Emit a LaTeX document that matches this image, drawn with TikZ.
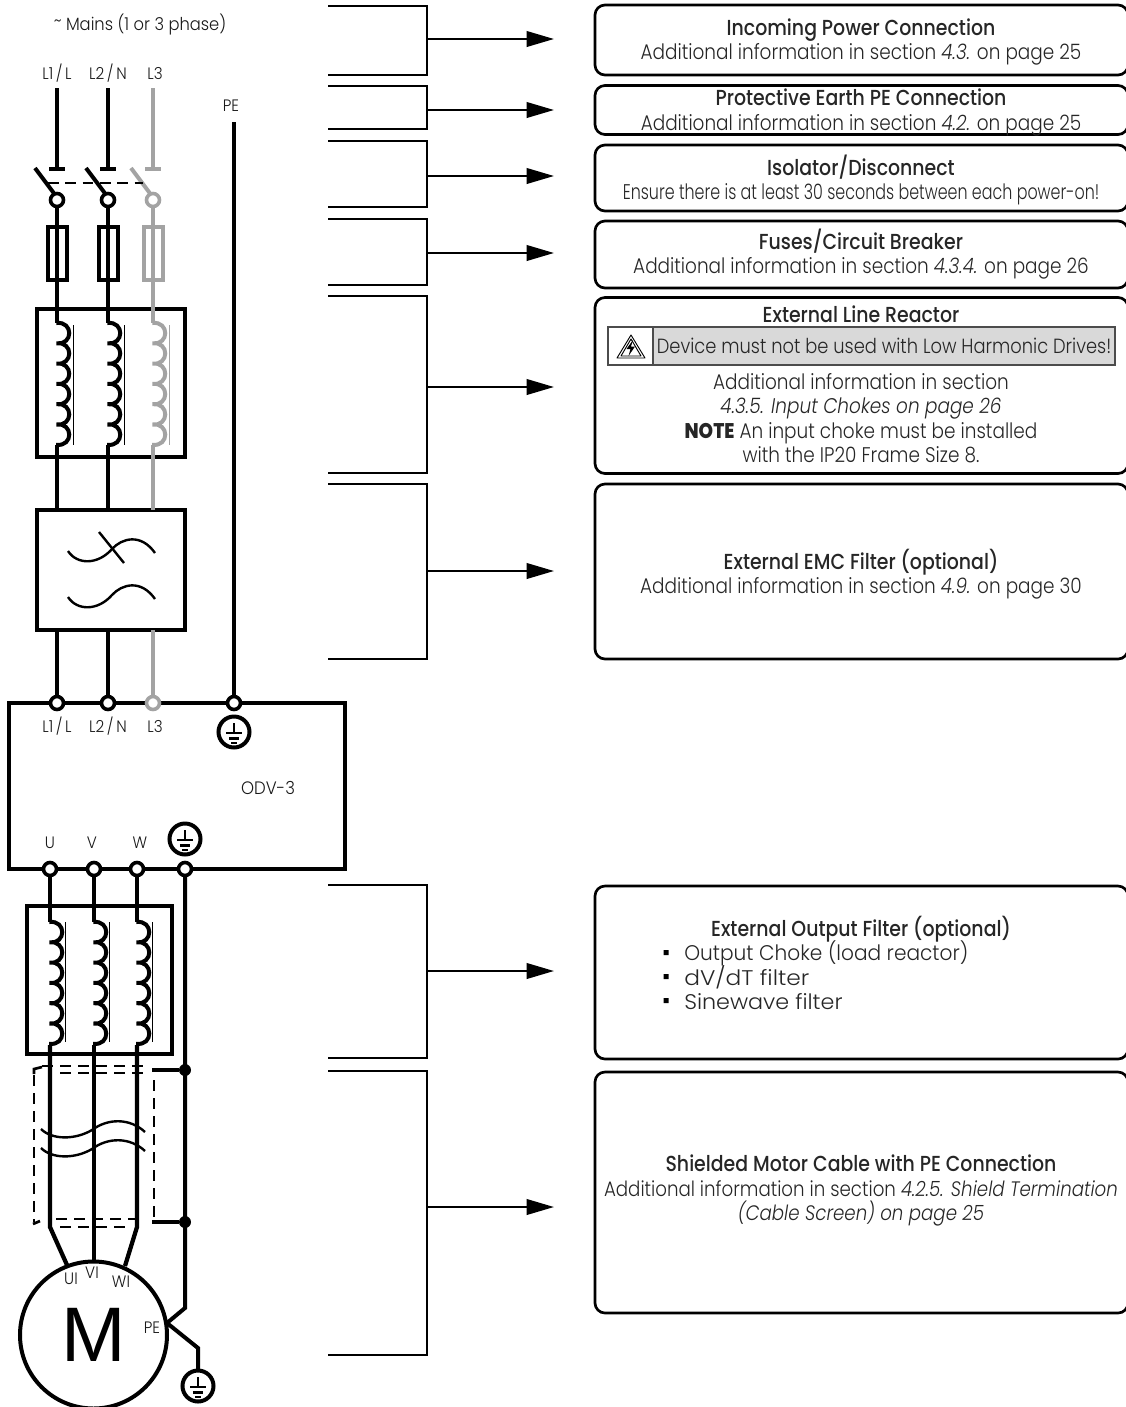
\documentclass[tikz,border=0pt]{standalone}
\usepackage{fontspec}
\usetikzlibrary{arrows.meta,calc}
\setmainfont{Poppins}[UprightFont=* Light,ItalicFont=* Light Italic,BoldFont=* Medium,FakeStretch=0.87]
\newfontfamily\noteface{Poppins}[UprightFont=* ExtraBold,FakeStretch=0.87]
\newfontfamily\labface{Poppins}[UprightFont=* Light,FakeStretch=0.92]
\newfontfamily\mface{Liberation Sans}
\definecolor{phasegrey}{HTML}{A3A3A3}
\definecolor{warngrey}{HTML}{D9D9D9}
\newcommand{\ttlfont}{\fontsize{16.3}{18.4}\selectfont\bfseries}
\newcommand{\bodyfont}{\fontsize{15.9}{18.4}\selectfont}
\tikzset{
 x=0.75pt,y=-0.75pt,
 wire/.style={line width=3pt,line cap=butt},
 frame/.style 2 args={draw,line width=3pt,minimum width=#1*0.75pt,minimum height=#2*0.75pt,inner sep=0pt,outer sep=0pt},
 term/.style={draw,circle,fill=white,line width=2.7pt,minimum size=13*0.75pt,inner sep=0pt,outer sep=0pt},
 earthring/.style={draw,circle,line width=3pt,minimum size=31*0.75pt,inner sep=0pt,outer sep=0pt},
 infobox/.style 2 args={draw,rounded corners=7.5pt,line width=2pt,minimum width=#1*0.75pt,minimum height=#2*0.75pt,inner sep=0pt,outer sep=0pt},
 bracket/.style={line width=2pt,line join=miter},
 pointer/.style={line width=2pt,-{Triangle[length=20.5pt,width=11.5pt]},shorten >=30.7pt},
 info/.style={align=center,inner sep=0pt,font=\bodyfont,text=black!85},
 tag/.style={inner sep=0pt,font=\fontsize{12.4}{14}\selectfont\labface,text=black!90},
 shield/.style={line width=2pt,dash pattern=on 8pt off 5.5pt},
 thin core/.style={line width=1pt},
 junction/.style={circle,fill,minimum size=12*0.75pt,inner sep=0pt},
}
\newcommand{\coil}[3][black]{%
 \draw[line width=3pt,#1] (#2,#3) -- ++(-0.5,0)
  \foreach \k in {0,...,5}{ .. controls +(17,-2) and +(17,2) .. ++(0,20.3)} -- ++(-0.5,0);
 }
\newcommand{\earthmarks}[1]{%
 \draw[line width=1.6pt] ($(#1)+(0,-9)$) -- ($(#1)+(0,1)$)
  ($(#1)+(-8,1)$) -- ($(#1)+(8,1)$)
  ($(#1)+(-5.2,6.5)$) -- ($(#1)+(5.2,6.5)$)
  ($(#1)+(-2.8,11)$) -- ($(#1)+(2.8,11)$);
}
\begin{document}
\begin{tikzpicture}
\useasboundingbox (0,0) rectangle (1126,1407);
\clip (0,0) rectangle (1126,1407);
%%% --- info boxes
\node[infobox={533}{70}]  (box1) at (861.5,40) {};
\node[infobox={533}{49}]  (box2) at (861.5,110) {};
\node[infobox={533}{66}]  (box3) at (861.5,178) {};
\node[infobox={533}{67}]  (box4) at (861.5,254.5) {};
\node[infobox={533}{176}] (box5) at (861.5,385.5) {};
\node[infobox={533}{175}] (box6) at (861.5,571.5) {};
\node[infobox={533}{173}] (box7) at (861.5,972.5) {};
\node[infobox={533}{241}] (box8) at (861.5,1192.5) {};
%%% --- box texts
\node[info] (txt1) at (861,42) {\ttlfont Incoming Power Connection\\Additional information in section \textit{4.3.} on page 25};
\node[info] (txt2) at (861,112.5) {\ttlfont Protective Earth PE Connection\\Additional information in section \textit{4.2.} on page 25};
\node[info] (txt3) at (861,180) {\ttlfont Isolator/Disconnect\\\addfontfeature{FakeStretch=0.75}Ensure there is at least 30 seconds between each power-on!};
\node[info] (txt4) at (861,254) {\ttlfont Fuses/Circuit Breaker\\Additional information in section \textit{4.3.4.} on page 26};
\node[info] (txt5a) at (861,314) {\ttlfont External Line Reactor};
\node[draw=black!70,fill=white,line width=0.8pt,minimum width=45*0.75pt,minimum height=38*0.75pt,inner sep=0pt,outer sep=0pt] (warnicon) at (630.5,346) {};
\node[draw=black!70,fill=warngrey,line width=0.8pt,minimum width=462*0.75pt,minimum height=38*0.75pt,inner sep=0pt,outer sep=0pt,font=\fontsize{15.4}{18}\selectfont,text=black!85] (warntext) at (884,346) {Device must not be used with Low Harmonic Drives!};
\draw[line width=0.7pt,line join=round] (617,358) -- (631,335) -- (645,358) -- cycle (621,356) -- (631,339) -- (641,356) -- cycle;
\fill (633,340) -- (626.5,349) -- (630.5,349) -- (628.5,356) -- (635,346.5) -- (631,346.5) -- cycle;
\node[info] (txt5b) at (861,418) {Additional information in section\\\textit{4.3.5. Input Chokes on page 26}\\{\noteface NOTE} An input choke must be installed\\with the IP20 Frame Size 8.};
\node[info] (txt6) at (861,574) {\ttlfont External EMC Filter (optional)\\Additional information in section \textit{4.9.} on page 30};
\node[info] (txt7) at (861,929.5) {\ttlfont External Output Filter (optional)};
\node[info,anchor=west] (b7a) at (684,953.5) {\addfontfeature{FakeStretch=0.95}Output Choke (load reactor)};
\node[info,anchor=west] (b7b) at (684,977.5) {\addfontfeature{FakeStretch=1.1}dV/dT filter};
\node[info,anchor=west] (b7c) at (684,1001.5) {\addfontfeature{FakeStretch=1.05}Sinewave filter};
\fill (663.5,950) rectangle +(5,5) (663.5,974) rectangle +(5,5) (663.5,998) rectangle +(5,5);
\node[info,font=\fontsize{15.7}{18.4}\selectfont] (txt8) at (861,1190.5) {\ttlfont Shielded Motor Cable with PE Connection\\Additional information in section \textit{4.2.5. Shield Termination}\\\textit{(Cable Screen) on page 25}};
%%% --- brackets and pointers
\foreach \i/\a/\b/\m in {1/6/75/39,2/86/129/110,3/141/207/176,4/219/285/253,5/296/473/387,6/484/659/571,7/885/1058/971,8/1071/1355/1207}{
 \draw[bracket] (328,\a) -- (427,\a) -- (427,\b) -- (328,\b);
 \coordinate (bk\i) at (427,\m);
 \draw[pointer] (bk\i) -- (bk\i -| box\i.west);
}
%%% --- mains labels
\node[tag,font=\fontsize{13.3}{14}\selectfont\labface] (mains) at (140,25) {\raisebox{3pt}{\fontsize{13}{13}\selectfont\textasciitilde} Mains (1 or 3 phase)};
\node[tag] (lab1) at (57,73.5) {L1\kern2pt/\kern2pt L};
\node[tag] (lab2) at (108,73.5) {L2\kern2pt/\kern2pt N};
\node[tag] (lab3) at (155,73.5) {L3};
\node[tag] (labpe) at (231,106) {PE};
%%% --- drive
\node[frame={336}{166}] (drive) at (177,786) {};
\node[tag] (dl1) at (57,726) {L1\kern2pt/\kern2pt L};
\node[tag] (dl2) at (108,726) {L2\kern2pt/\kern2pt N};
\node[tag] (dl3) at (155,726) {L3};
\node[tag,font=\fontsize{13.5}{15}\selectfont\labface] (odv) at (268,788) {ODV-3};
\node[tag] (du) at (50,843) {U};
\node[tag] (dv) at (92,843) {V};
\node[tag] (dw) at (140,843) {W};
%%% --- filter and reactor frames
\node[frame={148}{148}] (lr) at (111,383) {};
\node[frame={148}{120}] (emc) at (111,570) {};
\node[frame={145}{148}] (or) at (99.5,979.5) {};
%%% --- input wires, coils
\foreach \x/\c/\i in {57/black/1,108/black/2,153/phasegrey/3}{
 \coordinate (top\i) at (\x,88);
 \coordinate (cont\i) at (\x,168.5);
 \coordinate (coilt\i) at (\x,323);
 \coordinate (coilb\i) at (\x,445);
 \node[term,draw=\c] (sw\i) at (\x,200) {};
 \node[draw=\c,line width=3pt,minimum width=19*0.75pt,minimum height=53*0.75pt,inner sep=0pt,outer sep=0pt] (fuse\i) at (\x,253.5) {};
 \draw[wire,\c] (top\i) -- (cont\i);
 \draw[wire,\c] ($(cont\i)+(-8,0)$) -- ($(cont\i)+(8,0)$);
 \draw[wire,\c] ($(sw\i)+(-2.5,-6)$) -- ($(sw\i)+(-22,-32)$);
 \draw[wire,\c] (sw\i.south) -- (coilt\i);
 \coil[\c]{\x}{323}
 \draw[wire,\c] (coilb\i) -- (\x,510);
 \draw[line width=1pt,\c] (\x+16.5,325) -- (\x+16.5,445);
}
\draw[line width=2pt,dash pattern=on 8pt off 5pt] (48,183) -- (143,183);
%%% EMC symbols
\draw[line width=1.8pt] (68,551) .. controls (77,565) and (98,565) .. (112,549) .. controls (122,538) and (141,533) .. (155,553);
\draw[line width=1.8pt] (99,532) -- (124,563);
\draw[line width=1.8pt] (68,597) .. controls (77,611) and (98,611) .. (112,595) .. controls (122,584) and (141,579) .. (155,599);
%%% --- lower terminals
\foreach \x/\c/\i in {57/black/1,108/black/2,153/phasegrey/3}{
 \node[term,draw=\c] (in\i) at (\x,703) {};
 \draw[wire,\c] (\x,630) -- (in\i.north);
}
\node[term] (inpe) at (234,703) {};
\coordinate (petop) at (234,122);
\draw[wire] (petop) -- (inpe.north);
\node[earthring] (e1) at (234,732) {};
\earthmarks{e1}
\node[term] (u) at (50,869) {};
\node[term] (v) at (94,869) {};
\node[term] (w) at (137,869) {};
\node[term] (gnd) at (185,869) {};
\node[earthring] (e2) at (185,839) {};
\earthmarks{e2}
%%% --- output wires + coils
\foreach \n/\x in {u/50,v/94,w/137}{
 \draw[wire] (\n.south) -- (\x,922);
 \coil{\x}{922}
 \draw[thin core] (\x+15.5,922) -- (\x+15.5,1042);
}
%%% --- motor
\node[draw,circle,line width=3pt,minimum size=147*0.75pt,inner sep=0pt,outer sep=0pt] (motor) at (93.5,1335) {};
\node[inner sep=0pt,font=\fontsize{58}{60}\selectfont\mface] (mm) at (94,1335) {M};
\node[tag] (ui) at (71,1279) {UI};
\node[tag] (vi) at (92,1273) {VI};
\node[tag] (wi) at (121,1282) {WI};
\node[tag] (mpe) at (152,1328) {PE};
\draw[wire,line width=3.2pt] (50,1045) -- (50,1227) -- (67,1265);
\draw[wire] (94,1045) -- (94,1260);
\draw[wire,line width=3.2pt] (137,1045) -- (137,1227) -- (125,1266);
%%% --- shield
\draw[shield] (42,1066) -- (143,1066);
\draw[shield] (60,1073) -- (148,1073);
\draw[shield] (34,1075) -- (34,1222);
\draw[shield] (154,1080) -- (154,1222);
\draw[shield] (56,1219) -- (143,1219);
\draw[shield] (60,1227) -- (130,1227);
\draw[line width=2pt] (34,1074) -- (34,1069) -- (42,1067);
\draw[line width=2pt] (33,1224) -- (40,1221);
\node[junction] (j1) at (185,1070) {};
\node[junction] (j2) at (185,1222) {};
\draw[wire] (152,1070) -- (j1);
\draw[wire] (152,1222) -- (j2);
\draw[line width=1.8pt] (41,1129) .. controls (52,1140) and (75,1140) .. (92,1130) .. controls (108,1118) and (130,1118) .. (145,1132);
\draw[line width=1.8pt] (41,1148) .. controls (52,1159) and (75,1159) .. (92,1149) .. controls (108,1137) and (130,1137) .. (145,1151);
%%% --- PE path
\node[earthring] (e3) at (198,1386) {};
\earthmarks{e3}
\draw[line width=3pt,line join=miter] (gnd.south) -- (185,1308) -- (167,1323) -- (198,1348) -- (e3.north);
\end{tikzpicture}
\end{document}
